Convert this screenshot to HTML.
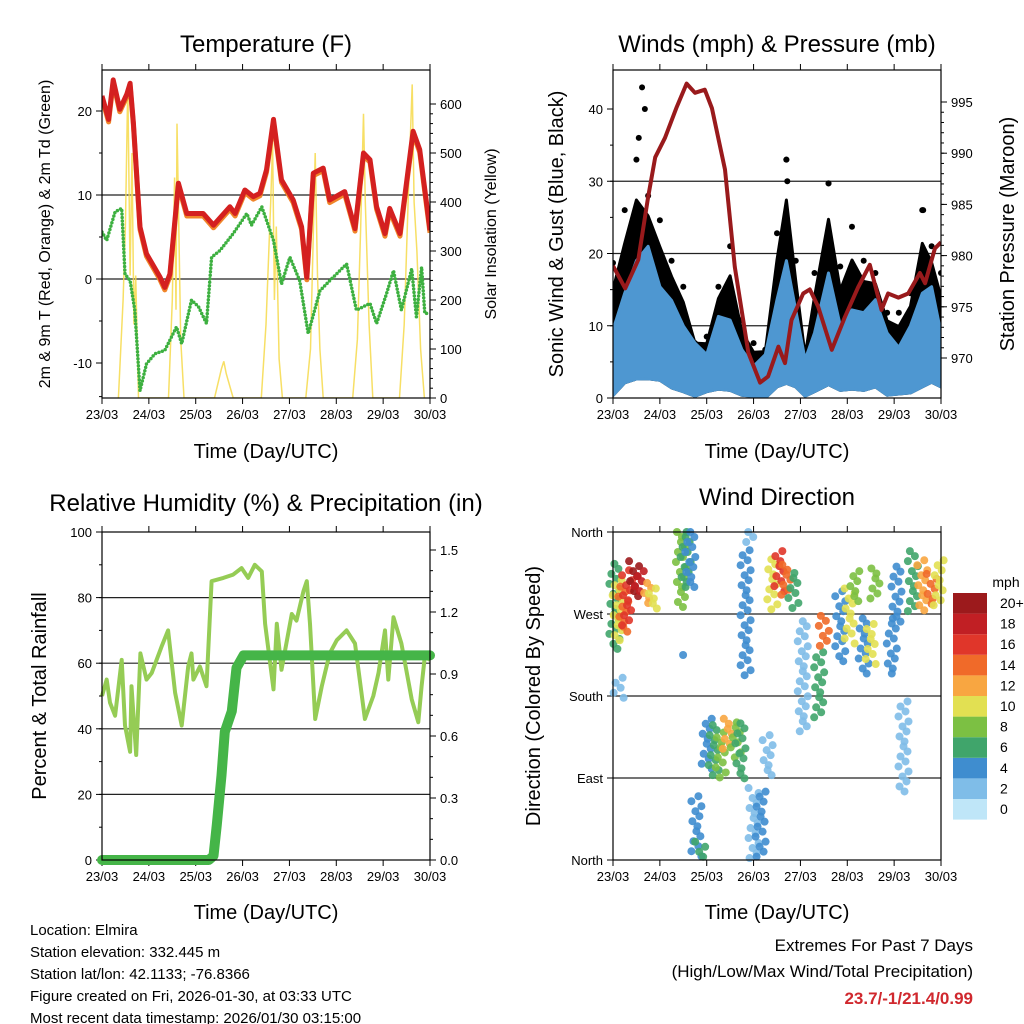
<!DOCTYPE html>
<html><head><meta charset="utf-8"><style>
html,body{margin:0;padding:0;background:#fff;}
svg{display:block;font-family:"Liberation Sans",sans-serif;}
</style></head><body>
<svg id="chart" width="1024" height="1024" viewBox="0 0 1024 1024" xmlns="http://www.w3.org/2000/svg">
<g id="layer"></g>
<g font-size="15" fill="#000">
<text x="30" y="935">Location: Elmira</text>
<text x="30" y="957">Station elevation: 332.445 m</text>
<text x="30" y="979">Station lat/lon: 42.1133; -76.8366</text>
<text x="30" y="1001">Figure created on Fri, 2026-01-30, at 03:33 UTC</text>
<text x="30" y="1023">Most recent data timestamp: 2026/01/30 03:15:00</text>
</g>
<g text-anchor="end">
<text x="973" y="951" font-size="17">Extremes For Past 7 Days</text>
<text x="973" y="977" font-size="17">(High/Low/Max Wind/Total Precipitation)</text>
<text x="973" y="1004" font-size="17" font-weight="bold" fill="#d0282e">23.7/-1/21.4/0.99</text>
</g>
</svg>
<script>
// ---------- DATA ----------
const dayLabels = ["23/03","24/03","25/03","26/03","27/03","28/03","29/03","30/03"];
const tempTimes = [0,0.14,0.24,0.38,0.53,0.6,0.67,0.81,0.95,1.24,1.34,1.45,1.63,1.81,2.16,2.38,2.73,2.84,3.05,3.23,3.37,3.51,3.66,3.83,4.08,4.26,4.37,4.51,4.72,4.86,5.18,5.4,5.58,5.72,5.86,6.04,6.14,6.36,6.64,6.78,7];
const temp2m = [21.8,19,23.7,20.2,22,23.3,18.6,6.2,3,0.2,-1,0.6,11.4,7.8,7.8,6.4,8.6,7.8,10.6,9.8,10.2,13,19,11.8,9.4,6.2,0.2,12.6,13.2,9.4,10.4,6,15,14.2,8.6,5.4,8.4,5.4,17.6,15.4,5.8];
const dewTimes = [0,0.1,0.28,0.42,0.49,0.6,0.7,0.81,0.95,1.13,1.34,1.59,1.7,1.91,2.06,2.23,2.34,2.52,2.8,3.09,3.19,3.41,3.66,3.83,4.01,4.22,4.4,4.65,4.86,5.22,5.43,5.72,5.86,6.07,6.22,6.39,6.61,6.71,6.82,6.89,7];
const dewPoint = [5.6,4.6,8,8.4,0.6,-0.2,-3.7,-13.3,-10.1,-8.9,-8.5,-5.7,-7.7,-2.5,-3.3,-5.3,2.6,3.4,5.4,7.8,6.4,8.6,4.6,-0.6,2.6,-0.2,-6.5,-1.4,-0.2,1.8,-3.7,-2.9,-5.3,-1.8,1,-3.7,1.2,-4.5,1.4,-4.1,-4.1];
const solarTimes = [0.35,0.45,0.5,0.55,0.6,0.64,0.68,0.72,0.78, 1.42,1.5,1.55,1.58,1.6,1.64,1.68,1.75, 2.4,2.55,2.6,2.65,2.8, 3.4,3.5,3.6,3.64,3.68,3.72,3.78,3.85, 4.35,4.45,4.5,4.55,4.6,4.65,4.72, 5.35,5.45,5.52,5.58,5.62,5.7,5.78, 6.35,6.45,6.55,6.62,6.66,6.72,6.8,6.88];
const solarVals = [0,200,350,640,250,500,150,250,0, 0,200,450,180,560,350,120,0, 0,60,75,50,0, 0,150,400,520,200,350,80,0, 0,100,300,500,250,100,0, 0,120,350,580,400,150,0, 0,150,450,640,400,300,100,0];

const windTimes = [0,0.25,0.5,0.75,1,1.25,1.5,1.75,2,2.25,2.5,2.75,3,3.25,3.5,3.7,3.9,4.1,4.3,4.6,4.85,5.1,5.35,5.6,5.85,6.1,6.35,6.6,6.8,7];
const windMax = [9.4,14.5,19,21,15.4,13.5,10,7.6,6,11.3,10.8,6.7,4.4,6,13.6,19,12.2,5.3,9,17.3,10,12.2,11.8,13.6,9,7,10,14.5,15.4,9];
const windMin = [1,6,7.5,7.6,7,4,2.5,0.7,2.5,3.5,3,1.1,0.7,0,4.4,5.8,4.4,0.7,2.5,5.3,3,3.5,3,4.4,1.1,1.6,2,4.4,6.2,4.4];
const gustMax = [18.7,26,33,28,24.6,19,15.4,7.6,8.5,15.4,21,10.8,7.6,6.7,22.8,33,19,6.2,17.3,29.7,18.2,23.7,19,17.3,11.8,11.8,14.5,26,21,17.3];
const gustSpikeTimes = [0.55,0.62,0.68,3.7,3.72,4.6,6.62];
const gustSpikeVals = [36,43,40,33,30,29.7,26];
const presTimes = [0,0.26,0.54,0.75,0.9,1.11,1.36,1.57,1.75,1.96,2.11,2.39,2.6,2.89,3.14,3.31,3.53,3.67,3.81,4.06,4.2,4.38,4.67,4.95,5.23,5.48,5.73,5.87,6.09,6.3,6.55,6.66,6.87,7];
const pressure = [979,976.8,979.6,985.7,989.6,991.5,994.5,996.8,995.9,996.2,994.4,988.4,978.9,970.5,967.6,968.2,971.1,969.5,973.7,976.3,976.7,975,970.8,974,976.9,979.1,974.7,976.3,975.9,976.3,978.3,977.3,980.7,981.3];

const rhTimes = [0,0.1,0.17,0.28,0.42,0.49,0.6,0.63,0.73,0.82,0.95,1.06,1.27,1.41,1.56,1.7,1.84,1.91,1.95,2.09,2.23,2.34,2.59,2.8,2.98,3.12,3.26,3.41,3.48,3.66,3.73,3.83,4.05,4.15,4.3,4.37,4.44,4.55,4.69,4.86,5.01,5.22,5.4,5.61,5.79,5.9,6.04,6.11,6.22,6.39,6.61,6.75,6.82,6.89,7];
const rhVals = [50,55,48,44,61,41,33,53,32,63,55,57,65,70,51,41,59,63,55,59,53,85,86,87,89,86,90,88,72,52,72,58,75,73,82,85,72,43,53,63,67,70,66,43,50,57,70,55,74,66,49,42,53,62,61];
const precipTimes = [0,2.28,2.38,2.45,2.55,2.62,2.77,2.87,3.02,7];
const precipVals = [0,0,0.02,0.17,0.41,0.62,0.72,0.93,0.99,0.99];

// wind direction segments: day, direction low (deg), direction high (deg), speed (mph)
const dirDays = [0.03,0.1,0.22,0.3,0.45,0.55,0.75,0.85,1.45,1.55,1.65,0.12,1.56,1.78,1.86,2.0,2.15,2.3,2.45,2.62,2.72,2.83,2.95,3.3,3.0,3.15,3.4,3.55,3.7,3.85,4.05,4.4,4.5,4.85,5.05,5.15,5.35,5.5,5.6,5.95,6.05,6.2,6.4,6.6,6.8,6.95];
const dirLow = [230,240,250,257,288,290,280,273,277,295,297,175,220,2,0,97,90,90,118,112,86,200,345,93,2,2,273,295,287,276,140,155,230,215,236,282,203,214,282,203,258,75,268,273,280,276];
const dirHigh = [325,307,300,318,328,317,304,298,360,360,362,200,225,70,20,155,148,140,155,151,150,340,360,137,79,75,330,339,324,315,262,228,268,295,298,317,265,259,320,265,322,174,339,329,314,329];
const dirSpeed = [5,9,13,15,19,17,12,10,7,6,3,1,4,4,5,4,6,8,11,7,5,3,1,1,2,3,9,16,13,5,2,6,14,4,10,8,4,9,7,4,3,2,5,11,14,9];

const binColors = ["#bfe6f8","#7fbde8","#3f8dcf","#40a56b","#7cc043","#e2e052","#f8a641","#f06a29","#e0362a","#c11f24","#9c1a1c"];
const binLabels = ["0","2","4","6","8","10","12","14","16","18","20+"];

// ---------- HELPERS ----------
const NS = "http://www.w3.org/2000/svg";
const root = document.getElementById("layer");
function mk(tag, attrs, parent) {
  const e = document.createElementNS(NS, tag);
  for (const k in attrs) e.setAttribute(k, attrs[k]);
  (parent || root).appendChild(e);
  return e;
}
function lin(d0, d1, r0, r1) { return v => r0 + (v - d0) * (r1 - r0) / (d1 - d0); }
function pathOf(xs, ys, fx, fy) { return xs.map((t, i) => (i ? "L" : "M") + fx(t).toFixed(1) + "," + fy(ys[i]).toFixed(1)).join(""); }
function bandPath(xs, top, bot, fx, fy) {
  const n = xs.length;
  let d = "M" + xs.map((t, i) => fx(t).toFixed(1) + "," + fy(top[i]).toFixed(1)).join("L");
  for (let i = n - 1; i >= 0; i--) d += "L" + fx(xs[i]).toFixed(1) + "," + fy(bot[i]).toFixed(1);
  return d + "Z";
}

function frame(name) {
  const g = mk("g", {});
  
  
  return g;
}
function xAxis(g, px, py, w, h, fx) {
  for (let d = 0; d <= 7; d++) {
    const x = fx(d);
    mk("line", {x1: x, y1: py + h, x2: x, y2: py + h + 6, stroke: "#000"}, g);
    mk("line", {x1: x, y1: py, x2: x, y2: py - 6, stroke: "#000"}, g);
    const t = mk("text", {x: x, y: py + h + 21, "text-anchor": "middle", "font-size": "13"}, g);
    t.textContent = dayLabels[d];
    
    
  }
}
function yTicks(g, x, side, fy, lo, hi, major, minor, fmt, gridX0, gridX1, labels) {
  const dir = side === "left" ? -1 : 1;
  for (let v = lo; v <= hi + 1e-9; v += minor) {
    const y = fy(v);
    mk("line", {x1: x, y1: y, x2: x + dir * 3, y2: y, stroke: "#000"}, g);
  }
  let i = 0;
  for (let v = lo; v <= hi + 1e-9; v += major, i++) {
    const y = fy(v);
    mk("line", {x1: x, y1: y, x2: x + dir * 6, y2: y, stroke: "#000"}, g);
    if (gridX0 !== null && v > lo + 1e-9 && v < hi - 1e-9) mk("line", {x1: gridX0, y1: y, x2: gridX1, y2: y, stroke: "#222", "stroke-width": "1.2"}, g);
    const t = mk("text", {x: x + dir * 10, y: y + 5, "text-anchor": side === "left" ? "end" : "start", "font-size": "13"}, g);
    t.textContent = labels ? labels[i] : fmt(v);
    
    
  }
}
function label(txt, x, y, size, rot, name) {
  const t = mk("text", {x: x, y: y, "text-anchor": "middle", "font-size": size, transform: rot ? `rotate(-90 ${x} ${y})` : ""});
  t.textContent = txt;
  
  
}
function border(g, px, py, w, h) {
  mk("rect", {x: px, y: py, width: w, height: h, fill: "none", stroke: "#000", "stroke-width": "1.2"}, g);
}

// ---------- PANEL 1: TEMPERATURE ----------
(function(){
  const px = 102, py = 70, w = 328, h = 328;
  const fx = lin(0, 7, px, px + w), fy = lin(0, 20, 279, 111), fs = lin(0, 600, 398, 104);
  const g = frame('temperature-panel');
  const clip = mk("clipPath", {id: "c1"}, g); mk("rect", {x: px, y: py, width: w, height: h}, clip);
  yTicks(g, px, "left", fy, -10, 20, 10, 5, v => v, px, px + w);
  mk("line", {x1: px, y1: fy(-14), x2: px - 3, y2: fy(-14), stroke: "#000"}, g);
  yTicks(g, px + w, "right", fs, 0, 600, 100, 20, v => v, null);
  xAxis(g, px, py, w, h, fx);
  const sol = mk("path", {d: pathOf(solarTimes, solarVals, fx, fs), fill: "none", stroke: "#f6d94a", "stroke-width": "1.5", "stroke-opacity": "0.85", "clip-path": "url(#c1)"}, g);
  
  
  const or = mk("path", {d: pathOf(tempTimes, temp2m.map(v => v - 0.3), fx, fy), fill: "none", stroke: "#f0852a", "stroke-width": "5", "stroke-linejoin": "round", "clip-path": "url(#c1)"}, g);
  
  
  const rd = mk("path", {d: pathOf(tempTimes, temp2m, fx, fy), fill: "none", stroke: "#d42020", "stroke-width": "5", "stroke-linejoin": "round", "clip-path": "url(#c1)"}, g);
  
  
  const dp = mk("path", {d: pathOf(dewTimes, dewPoint, fx, fy), fill: "none", stroke: "#3db040", "stroke-width": "3.5", "stroke-linecap": "round", "stroke-dasharray": "0 3.5", "clip-path": "url(#c1)"}, g);
  
  
  border(g, px, py, w, h);
  label("Temperature (F)", 266, 52, 24, false, 'temperature-title');
  label("Time (Day/UTC)", 266, 458, 20, false, 'temperature-x-axis-title');
  label("2m & 9m T (Red, Orange) & 2m Td (Green)", 50, 234, 16, true, 'temperature-y-axis-title');
  label("Solar Insolation (Yellow)", 496, 234, 16, true, 'solar-y-axis-title');
})();

// ---------- PANEL 2: WINDS ----------
(function(){
  const px = 613, py = 70, w = 328, h = 328;
  const fx = lin(0, 7, px, px + w), fy = lin(0, 40, 398, 109), fp = lin(970, 995, 358, 102);
  const g = frame('winds-panel');
  const clip = mk("clipPath", {id: "c2"}, g); mk("rect", {x: px, y: py, width: w, height: h}, clip);
  yTicks(g, px, "left", fy, 0, 40, 10, 5, v => v, px, px + w);
  yTicks(g, px + w, "right", fp, 970, 995, 5, 1, v => v, null);
  mk("line", {x1: px, y1: py, x2: px + w, y2: py, stroke: "#000"}, g);
  xAxis(g, px, py, w, h, fx);
  const bandTop = gustMax.map((v, i) => windMax[i] + 0.6 * (v - windMax[i]));
  const blueBot = windMin.map(v => v * 0.35);
  const gust = mk("path", {d: bandPath(windTimes, bandTop, blueBot, fx, fy), fill: "#000", stroke: "#000", "stroke-width": "3", "stroke-linejoin": "round", "clip-path": "url(#c2)"}, g);
  
  
  windTimes.forEach((t, i) => {
    const c = mk("circle", {cx: fx(t), cy: fy(gustMax[i]), r: 3, fill: "#000", "clip-path": "url(#c2)"}, g);
    
    
  });
  gustSpikeTimes.forEach((t, i) => {
    const c = mk("circle", {cx: fx(t), cy: fy(gustSpikeVals[i]), r: 3, fill: "#000"}, g);
    
    
  });
  const sw = mk("path", {d: bandPath(windTimes, windMax, blueBot, fx, fy), fill: "#4e97d1", stroke: "#4e97d1", "stroke-width": "3", "stroke-linejoin": "round", "clip-path": "url(#c2)"}, g);
  
  
  const pr = mk("path", {d: pathOf(presTimes, pressure, fx, fp), fill: "none", stroke: "#991a1c", "stroke-width": "4", "stroke-linejoin": "round", "clip-path": "url(#c2)"}, g);
  
  
  border(g, px, py, w, h);
  label("Winds (mph) & Pressure (mb)", 777, 52, 24, false, 'winds-title');
  label("Time (Day/UTC)", 777, 458, 20, false, 'winds-x-axis-title');
  label("Sonic Wind & Gust (Blue, Black)", 563, 234, 20, true, 'wind-y-axis-title');
  label("Station Pressure (Maroon)", 1014, 234, 20, true, 'pressure-y-axis-title');
})();

// ---------- PANEL 3: RH ----------
(function(){
  const px = 102, py = 532, w = 328, h = 328;
  const fx = lin(0, 7, px, px + w), fy = lin(0, 100, 860, 532), fp = lin(0, 1.5, 860, 550);
  const g = frame('humidity-panel');
  const clip = mk("clipPath", {id: "c3"}, g); mk("rect", {x: px - 6, y: py, width: w + 12, height: h + 6}, clip);
  yTicks(g, px, "left", fy, 0, 100, 20, 10, v => v, px, px + w);
  yTicks(g, px + w, "right", fp, 0, 1.5, 0.3, 0.1, v => v.toFixed(1), null);
  xAxis(g, px, py, w, h, fx);
  const rh = mk("path", {d: pathOf(rhTimes, rhVals, fx, fy), fill: "none", stroke: "#95cc55", "stroke-width": "4", "stroke-linejoin": "round", "clip-path": "url(#c3)"}, g);
  
  
  const pc = mk("path", {d: pathOf(precipTimes, precipVals, fx, fp), fill: "none", stroke: "#45b548", "stroke-width": "10", "stroke-linecap": "round", "stroke-linejoin": "round", "clip-path": "url(#c3)"}, g);
  
  
  border(g, px, py, w, h);
  label("Relative Humidity (%) & Precipitation (in)", 266, 511, 24, false, 'humidity-title');
  label("Time (Day/UTC)", 266, 919, 20, false, 'humidity-x-axis-title');
  label("Percent & Total Rainfall", 46, 696, 20, true, 'humidity-y-axis-title');
})();

// ---------- PANEL 4: WIND DIRECTION ----------
(function(){
  const px = 613, py = 532, w = 328, h = 328;
  const fx = lin(0, 7, px, px + w), fy = lin(0, 360, 860, 532);
  const g = frame('wind-direction-panel');
  yTicks(g, px, "left", fy, 0, 360, 90, 90, null, px, px + w, ["North","East","South","West","North"]);
  xAxis(g, px, py, w, h, fx);
  const jitter = [0, 4, -3, 2, -5, 5, -1, 3, -4, 1];
  dirDays.forEach((d, i) => {
    const bin = Math.max(0, Math.min(10, Math.round(dirSpeed[i] / 2)));
    const y0 = fy(Math.min(dirHigh[i], 360)), y1 = fy(Math.max(dirLow[i], 0));
    let k = i;
    for (let y = y0; y <= y1 + 0.1; y += 5, k++) {
      const c = mk("circle", {cx: fx(d) + jitter[k % 10], cy: y, r: 4, fill: binColors[bin], "fill-opacity": "0.9"}, g);
      
      
    }
  });
  border(g, px, py, w, h);
  const cb = mk("g", {}, g);
  
  
  const t0 = mk("text", {x: 1006, y: 587, "text-anchor": "middle", "font-size": "14"}, cb); t0.textContent = "mph";
  for (let i = 0; i < 11; i++) {
    const y = 593 + (10 - i) * 20.6;
    const r = mk("rect", {x: 953, y: y, width: 34, height: 20.6, fill: binColors[i]}, cb);
    
    
    const t = mk("text", {x: 1000, y: y + 15, "text-anchor": "start", "font-size": "14"}, cb);
    t.textContent = binLabels[i];
    
    
  }
  label("Wind Direction", 777, 505, 24, false, 'wind-direction-title');
  label("Time (Day/UTC)", 777, 919, 20, false, 'wind-direction-x-axis-title');
  label("Direction (Colored By Speed)", 540, 696, 20, true, 'wind-direction-y-axis-title');
})();
</script>
</body></html>
